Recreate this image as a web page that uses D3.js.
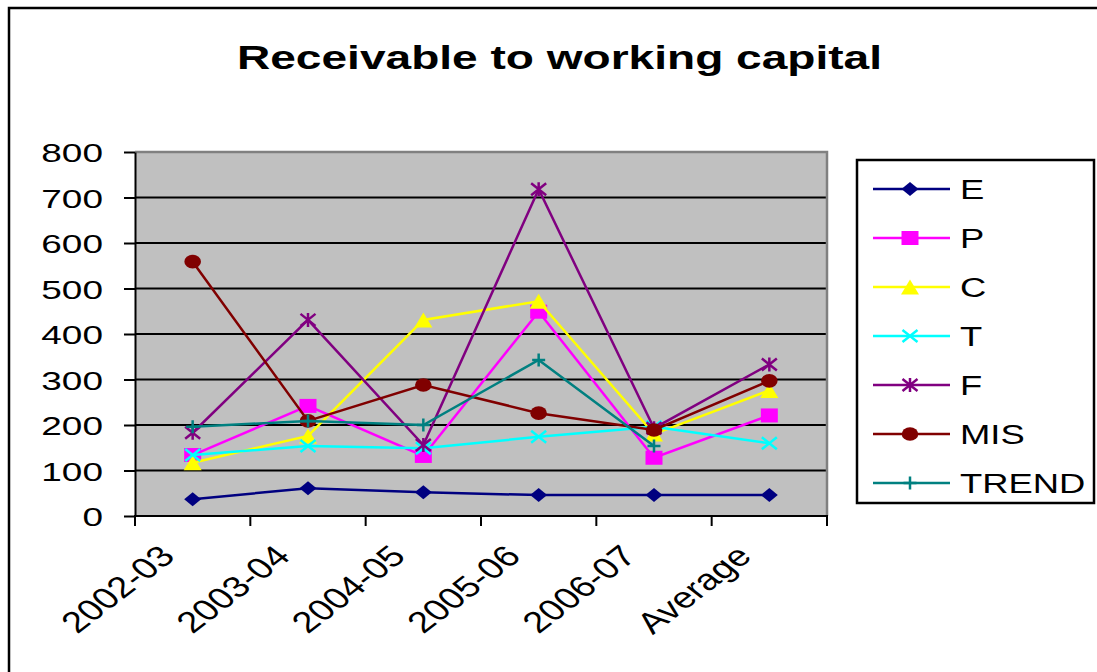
<!DOCTYPE html>
<html>
<head>
<meta charset="utf-8">
<script src="https://cdn.jsdelivr.net/npm/d3@7"></script>
<style>
  html, body { margin: 0; padding: 0; background: #fff; }
  svg { display: block; font-family: Arial, "Liberation Sans", sans-serif; }
</style>
</head>
<body>
<svg id="chart" width="1097" height="672"></svg>
<script>
// Receivable to working capital, by year
const categories = ["2002-03", "2003-04", "2004-05", "2005-06", "2006-07", "Average"];
const yTicks = [0, 100, 200, 300, 400, 500, 600, 700, 800];

const seriesE     = [37, 61, 52, 46, 46, 46];
const seriesP     = [134, 242, 132, 449, 128, 221];
const seriesC     = [117, 176, 431, 472, 180, 276];
const seriesT     = [134, 154, 149, 174, 196, 160];
const seriesF     = [183, 431, 156, 718, 193, 333];
const seriesMIS   = [559, 209, 288, 226, 189, 297];
const seriesTREND = [196, 209, 200, 343, 154, null];

const seriesNames  = ["E", "P", "C", "T", "F", "MIS", "TREND"];
const seriesColors = ["#000080", "#ff00ff", "#ffff00", "#00ffff", "#800080", "#800000", "#008080"];
const seriesShapes = ["diamond", "square", "triangle", "cross", "star", "circle", "plus"];
const seriesValues = [seriesE, seriesP, seriesC, seriesT, seriesF, seriesMIS, seriesTREND];

const svg = d3.select("#chart");

// outer chart frame
svg.append("rect")
  .attr("x", 9).attr("y", 8)
  .attr("width", 1120).attr("height", 700)
  .attr("fill", "#fff").attr("stroke", "#000").attr("stroke-width", 2.5);

// title
svg.append("text")
  .attr("x", 237).attr("y", 69)
  .attr("font-size", 34).attr("font-weight", "bold")
  .attr("textLength", 645).attr("lengthAdjust", "spacingAndGlyphs")
  .text("Receivable to working capital");

const plot = { left: 135, right: 827, top: 152, bottom: 516 };

const x = d3.scaleBand().domain(categories).range([plot.left, plot.right]);
const y = d3.scaleLinear().domain([0, 800]).range([plot.bottom, plot.top]);

// plot background
svg.append("rect")
  .attr("x", plot.left).attr("y", plot.top)
  .attr("width", plot.right - plot.left).attr("height", plot.bottom - plot.top)
  .attr("fill", "#c0c0c0");

// horizontal gridlines
svg.append("g").selectAll("line")
  .data(yTicks.filter(d => d > 0))
  .join("line")
  .attr("x1", plot.left).attr("x2", plot.right)
  .attr("y1", d => y(d)).attr("y2", d => y(d))
  .attr("stroke", "#000").attr("stroke-width", 2);

// plot frame (top and right edges)
svg.append("path")
  .attr("d", `M${plot.left},${plot.top}H${plot.right}V${plot.bottom}`)
  .attr("fill", "none").attr("stroke", "#808080").attr("stroke-width", 2.5);

// y axis
const yAxis = svg.append("g")
  .attr("transform", `translate(${plot.left},0)`)
  .call(d3.axisLeft(y).tickValues(yTicks).tickSize(11).tickSizeOuter(0));
yAxis.select(".domain").attr("stroke", "#000").attr("stroke-width", 2);
yAxis.selectAll(".tick line").attr("stroke", "#000").attr("stroke-width", 2);
yAxis.selectAll(".tick text")
  .attr("x", 0).attr("dy", "0.38em")
  .attr("transform", "translate(-32,0) scale(1.45,1)")
  .attr("font-size", 25.5).attr("font-family", "Arial, 'Liberation Sans', sans-serif")
  .attr("fill", "#000");

// x axis: line with ticks at category boundaries
const xAxis = svg.append("g").attr("transform", `translate(0,${plot.bottom})`);
xAxis.append("line")
  .attr("x1", plot.left - 1).attr("x2", plot.right + 1)
  .attr("stroke", "#000").attr("stroke-width", 2);
const boundaries = categories.map(c => x(c)).concat([x.range()[1]]);
xAxis.selectAll("line.tick")
  .data(boundaries)
  .join("line")
  .attr("class", "tick")
  .attr("x1", d => d).attr("x2", d => d)
  .attr("y1", 0).attr("y2", 10)
  .attr("stroke", "#000").attr("stroke-width", 2);
xAxis.selectAll("text")
  .data(categories)
  .join("text")
  .attr("transform", d => `translate(${x(d) + x.bandwidth() / 2 - 16},42) scale(1.3,1) rotate(-45)`)
  .attr("text-anchor", "end")
  .attr("font-size", 29.5)
  .text(d => d);

// marker shapes, w/h are half extents
function markerPath(shape, w, h) {
  switch (shape) {
    case "diamond":  return `M0,${-h}L${w},0L0,${h}L${-w},0Z`;
    case "square":   return `M${-w},${-h}H${w}V${h}H${-w}Z`;
    case "triangle": return `M0,${-h}L${w},${h}H${-w}Z`;
    case "cross":    return `M${-w},${-h}L${w},${h}M${-w},${h}L${w},${-h}`;
    case "star":     return `M${-w},${-h}L${w},${h}M${-w},${h}L${w},${-h}M0,${-h - 1}V${h + 1}`;
    case "plus":     return `M${-w},0H${w}M0,${-h}V${h}`;
    default:         return "";
  }
}
const markerSize = {
  diamond: [8.5, 7], square: [8.5, 7], triangle: [9, 7.5], cross: [7.5, 6],
  star: [7.5, 6], circle: [8.3, 6.8], plus: [6.5, 6.5]
};

function drawMarker(g, shape, color, cx, cy) {
  const [w, h] = markerSize[shape];
  if (shape === "circle") {
    g.append("ellipse").attr("cx", cx).attr("cy", cy).attr("rx", w).attr("ry", h).attr("fill", color);
  } else {
    const stroked = shape === "cross" || shape === "star" || shape === "plus";
    g.append("path")
      .attr("transform", `translate(${cx},${cy})`)
      .attr("d", markerPath(shape, w, h))
      .attr("fill", stroked ? "none" : color)
      .attr("stroke", stroked ? color : "none")
      .attr("stroke-width", stroked ? 2.5 : 0);
  }
}

// series lines and markers
const line = d3.line()
  .defined(d => d.v != null)
  .x(d => x(d.c) + x.bandwidth() / 2)
  .y(d => y(d.v));

seriesNames.forEach((name, i) => {
  const pts = categories.map((c, j) => ({ c, v: seriesValues[i][j] }));
  const g = svg.append("g").attr("class", "series-" + name);
  g.append("path")
    .datum(pts)
    .attr("d", line)
    .attr("fill", "none")
    .attr("stroke", seriesColors[i])
    .attr("stroke-width", 2.5);
  pts.filter(p => p.v != null).forEach(p => {
    drawMarker(g, seriesShapes[i], seriesColors[i], x(p.c) + x.bandwidth() / 2, y(p.v));
  });
});

// legend
const legend = svg.append("g");
legend.append("rect")
  .attr("x", 857).attr("y", 160).attr("width", 237).attr("height", 343)
  .attr("fill", "#fff").attr("stroke", "#000").attr("stroke-width", 2.5);
seriesNames.forEach((name, i) => {
  const cy = 189 + i * 49;
  const g = legend.append("g");
  g.append("line")
    .attr("x1", 873).attr("x2", 950).attr("y1", cy).attr("y2", cy)
    .attr("stroke", seriesColors[i]).attr("stroke-width", 2.5);
  drawMarker(g, seriesShapes[i], seriesColors[i], 910, cy);
  g.append("text")
    .attr("transform", `translate(960,${cy + 10}) scale(1.3,1)`)
    .attr("font-size", 28)
    .text(name);
});
</script>
</body>
</html>
